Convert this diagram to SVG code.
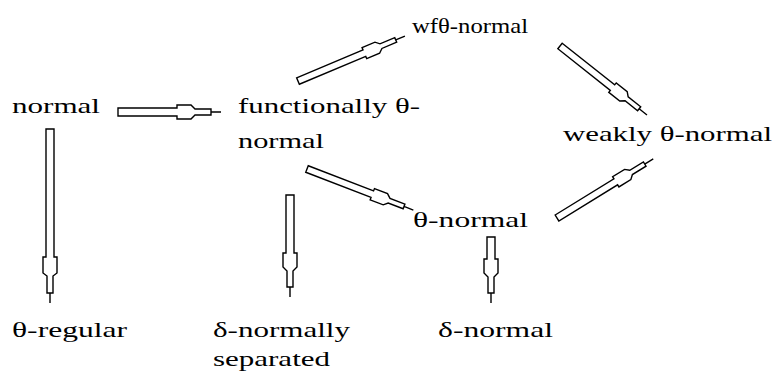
<svg xmlns="http://www.w3.org/2000/svg" width="774" height="372" viewBox="0 0 774 372">
<style>
.a{fill:#fff;stroke:#000;stroke-width:1.4;stroke-linejoin:miter}
</style>
<rect width="774" height="372" fill="#fff"/>
<g id="connectors">
<path class="a" transform="translate(118,112)" d="M0,-4H59V-7H73L77,-3H93V3H77L73,7H59V4H0Z M93,0H103"/>
<path class="a" transform="translate(50,129) rotate(90)" d="M0,-4H128V-7H144L147,-3H164V3H147L144,7H128V4H0Z M164,0H174"/>
<path class="a" transform="translate(298,81) rotate(-22.8)" d="M0,-3.5H72V-6H86L90,-2.5H106V2.5H90L86,6H72V3.5H0Z M106,0H116"/>
<path class="a" transform="translate(560,46) rotate(38.4)" d="M0,-3.5H67V-6H81L85,-2.5H101V2.5H85L81,6H67V3.5H0Z M101,0H111"/>
<path class="a" transform="translate(307,169) rotate(21.1)" d="M0,-3.5H70V-6H84L88,-2.5H104V2.5H88L84,6H70V3.5H0Z M104,0H114"/>
<path class="a" transform="translate(290,195) rotate(90)" d="M0,-4H58V-7H72L76,-3H92V3H76L72,7H58V4H0Z M92,0H102"/>
<path class="a" transform="translate(557,218) rotate(-31.6)" d="M0,-3.5H69V-6H83L87,-2.5H103V2.5H87L83,6H69V3.5H0Z M103,0H113"/>
<path class="a" transform="translate(491,237) rotate(90)" d="M0,-4H22V-7H36L40,-3H56V3H40L36,7H22V4H0Z M56,0H66"/>
</g>
<g font-family="Liberation Serif, DejaVu Serif, serif" font-size="21" fill="#000">
<g id="n-normal"><text x="12" y="113" textLength="88" lengthAdjust="spacingAndGlyphs">normal</text></g>
<g id="n-functionally"><text x="238" y="113" textLength="182" lengthAdjust="spacingAndGlyphs">functionally θ-</text><text x="238" y="148" textLength="86" lengthAdjust="spacingAndGlyphs">normal</text></g>
<g id="n-wf"><text x="412" y="33" textLength="116" lengthAdjust="spacingAndGlyphs">wfθ-normal</text></g>
<g id="n-weakly"><text x="563" y="141" textLength="209" lengthAdjust="spacingAndGlyphs">weakly θ-normal</text></g>
<g id="n-theta-normal"><text x="413" y="227" textLength="115" lengthAdjust="spacingAndGlyphs">θ-normal</text></g>
<g id="n-theta-regular"><text x="12" y="337" textLength="115" lengthAdjust="spacingAndGlyphs">θ-regular</text></g>
<g id="n-delta-sep"><text x="213" y="337" textLength="137" lengthAdjust="spacingAndGlyphs">δ-normally</text><text x="213" y="366" textLength="117" lengthAdjust="spacingAndGlyphs">separated</text></g>
<g id="n-delta-normal"><text x="438" y="337" textLength="115" lengthAdjust="spacingAndGlyphs">δ-normal</text></g>
</g>
</svg>
